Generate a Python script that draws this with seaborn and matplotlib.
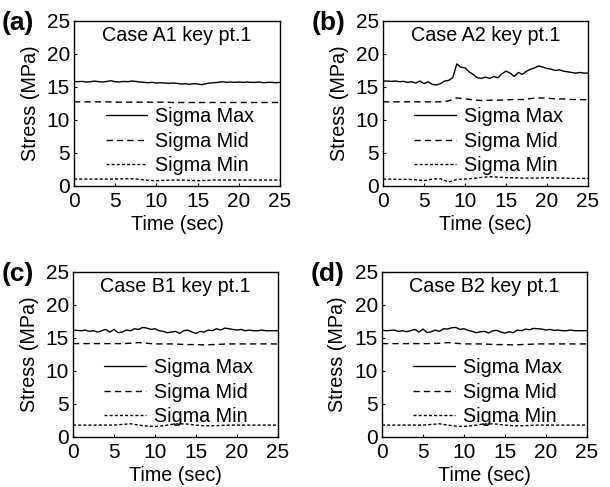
import numpy as np
import pandas as pd
import matplotlib
matplotlib.use("Agg")
import matplotlib.pyplot as plt
import seaborn as sns

# ---------------- data ----------------
t_fine = [i * 0.5 for i in range(51)]      # time for Sigma Max (sec)
t_coarse = list(range(26))                  # time for Sigma Mid / Min (sec)

panel_letters = ["(a)", "(b)", "(c)", "(d)"]
panel_titles = ["Case A1 key pt.1", "Case A2 key pt.1", "Case B1 key pt.1", "Case B2 key pt.1"]
series_names = ["Sigma Max", "Sigma Mid", "Sigma Min"]

a_max = [15.85, 15.8, 15.85, 15.75, 15.8, 15.9, 15.8, 15.75, 15.85, 15.95, 15.8,
         15.75, 15.85, 15.8, 15.9, 15.85, 15.75, 15.7, 15.65, 15.7, 15.6,
         15.65, 15.6, 15.55, 15.6, 15.55, 15.45, 15.5, 15.4, 15.5, 15.45,
         15.35, 15.5, 15.6, 15.65, 15.7, 15.8, 15.7, 15.75, 15.7, 15.75,
         15.7, 15.75, 15.7, 15.7, 15.75, 15.65, 15.7, 15.7, 15.65, 15.7]
a_mid = [12.75, 12.75, 12.75, 12.75, 12.75, 12.7, 12.7, 12.7, 12.7, 12.7, 12.7, 12.7, 12.65,
         12.65, 12.65, 12.65, 12.65, 12.65, 12.65, 12.65, 12.65, 12.65, 12.65, 12.65, 12.65, 12.65]
a_min = [1.05, 1.05, 1.05, 1.05, 1.05, 1.05, 1.1, 1.1, 1.0, 0.85, 0.8, 0.85, 0.9,
         0.9, 0.85, 0.8, 0.85, 0.9, 0.9, 0.9, 0.9, 0.9, 0.9, 0.9, 0.9, 0.9]

b_max = [15.9, 15.9, 15.85, 15.9, 15.8, 15.85, 15.7, 15.8, 15.6, 15.9, 15.5,
         15.8, 15.4, 15.3, 15.5, 15.9, 16.0, 16.4, 18.5, 18.0, 17.9,
         17.3, 16.9, 16.4, 16.3, 16.5, 16.3, 16.6, 16.4, 17.0, 17.4,
         17.1, 16.6, 17.2, 16.9, 17.4, 17.7, 17.9, 18.2, 18.0, 17.8,
         17.7, 17.5, 17.6, 17.4, 17.3, 17.2, 17.1, 17.2, 17.1, 17.1]
b_mid = [12.75, 12.75, 12.75, 12.75, 12.75, 12.75, 12.75, 12.75, 12.9, 13.35, 13.2, 13.05, 12.95,
         13.0, 13.0, 13.05, 13.1, 13.1, 13.25, 13.35, 13.3, 13.2, 13.2, 13.1, 13.1, 13.05]
b_min = [1.05, 1.05, 1.0, 1.0, 0.95, 0.8, 1.05, 1.1, 0.6, 1.0, 1.05, 1.15, 1.3,
         1.4, 1.35, 1.25, 1.25, 1.2, 1.2, 1.2, 1.25, 1.2, 1.2, 1.15, 1.15, 1.15]

c_max = [16.2, 16.15, 16.1, 16.2, 16.0, 16.1, 15.9, 16.1, 16.3, 15.9, 16.3,
         15.8, 15.9, 16.2, 16.1, 16.4, 16.3, 16.6, 16.5, 16.3, 16.4,
         16.1, 16.0, 15.8, 15.9, 16.0, 15.7, 16.1, 16.2, 15.9, 15.7,
         16.0, 15.9, 16.2, 16.1, 16.4, 16.2, 16.5, 16.4, 16.3, 16.2,
         16.3, 16.1, 16.2, 16.1, 16.1, 16.2, 16.1, 16.1, 16.1, 16.1]
c_mid = [14.15, 14.15, 14.15, 14.15, 14.15, 14.15, 14.15, 14.2, 14.3, 14.2, 14.1, 14.1, 14.1,
         14.05, 14.0, 14.0, 13.95, 14.0, 14.05, 14.1, 14.1, 14.1, 14.1, 14.1, 14.1, 14.1]
c_min = [1.8, 1.8, 1.8, 1.8, 1.8, 1.8, 1.9, 2.0, 1.8, 1.65, 1.6, 1.7, 1.9,
         2.0, 1.95, 1.8, 1.7, 1.7, 1.75, 1.8, 1.8, 1.8, 1.8, 1.8, 1.8, 1.8]

d_max = [16.2, 16.1, 16.15, 16.2, 16.0, 16.1, 15.95, 16.1, 16.3, 15.9, 16.35,
         15.8, 15.95, 16.2, 16.0, 16.4, 16.35, 16.55, 16.6, 16.3, 16.4,
         16.15, 16.0, 15.8, 15.95, 16.0, 15.75, 16.1, 16.15, 15.9, 15.75,
         15.95, 15.8, 16.2, 16.1, 16.35, 16.25, 16.45, 16.4, 16.35, 16.2,
         16.3, 16.15, 16.2, 16.1, 16.1, 16.2, 16.1, 16.1, 16.1, 16.1]
d_mid = [14.15, 14.15, 14.15, 14.15, 14.15, 14.15, 14.15, 14.2, 14.3, 14.2, 14.1, 14.1, 14.1,
         14.05, 14.0, 14.0, 13.95, 14.0, 14.05, 14.1, 14.1, 14.1, 14.1, 14.1, 14.1, 14.1]
d_min = [1.8, 1.8, 1.8, 1.8, 1.8, 1.8, 1.9, 2.0, 1.8, 1.65, 1.6, 1.7, 1.9,
         2.0, 1.95, 1.8, 1.7, 1.7, 1.75, 1.8, 1.8, 1.8, 1.8, 1.8, 1.8, 1.8]

x_ticks = [0, 5, 10, 15, 20, 25]
y_ticks = [0, 5, 10, 15, 20, 25]

# ---------------- style ----------------
sns.set_style("ticks")
plt.rcParams["font.family"] = ["Liberation Sans", "DejaVu Sans"]
plt.rcParams.update({
    "xtick.direction": "in", "ytick.direction": "in",
    "xtick.major.size": 2.5, "ytick.major.size": 2.5,
    "xtick.major.width": 0.8, "ytick.major.width": 0.8,
    "axes.linewidth": 1.0, "axes.edgecolor": "black",
    "xtick.color": "black", "ytick.color": "black",
    "text.color": "black", "axes.labelcolor": "black",
})

fig = plt.figure(figsize=(6.10, 4.87), dpi=100)
positions = [
    [0.1213, 0.6181, 0.3377, 0.3388],
    [0.6279, 0.6181, 0.3361, 0.3388],
    [0.1197, 0.1027, 0.3361, 0.3388],
    [0.6262, 0.1027, 0.3361, 0.3388],
]
data = [(a_max, a_mid, a_min), (b_max, b_mid, b_min), (c_max, c_mid, c_min), (d_max, d_mid, d_min)]
dash_styles = [None, (4.5, 3.0), (2.2, 1.5)]

FS_TICK = 15
FS = 14.2
for i, pos in enumerate(positions):
    ax = fig.add_axes(pos)
    mx, md, mn = data[i]
    frames = [
        pd.DataFrame({"t": t_fine, "v": mx}),
        pd.DataFrame({"t": t_coarse, "v": md}),
        pd.DataFrame({"t": t_coarse, "v": mn}),
    ]
    for k, df in enumerate(frames):
        sns.lineplot(data=df, x="t", y="v", ax=ax, color="black", linewidth=1.0,
                     label=series_names[k])
        line = ax.get_lines()[-1]
        if dash_styles[k] is not None:
            line.set_dashes(dash_styles[k])
    ax.set_xlim(0, 25)
    ax.set_ylim(0, 25)
    ax.set_xticks(x_ticks)
    ax.set_yticks(y_ticks)
    ax.tick_params(axis="x", labelsize=FS_TICK, pad=4, top=False)
    ax.tick_params(axis="y", labelsize=FS_TICK, pad=3, right=False)
    ax.set_xlabel("Time (sec)", fontsize=FS, labelpad=3)
    ax.set_ylabel("Stress (MPa)", fontsize=FS, labelpad=5)
    for s in ax.spines.values():
        s.set_visible(True)
        s.set_linewidth(1.0)
    ax.text(0.5, 0.91, panel_titles[i], transform=ax.transAxes, ha="center",
            va="center", fontsize=FS)
    ax.text(-0.35, 0.99, panel_letters[i], transform=ax.transAxes, ha="left",
            va="center", fontsize=19, fontweight="bold")
    leg = ax.legend(loc="center", bbox_to_anchor=(0.515, 0.272), frameon=False,
                    fontsize=FS, handlelength=2.1, handletextpad=0.4,
                    labelspacing=0.28, borderpad=0.0)

fig.savefig("out.png", dpi=100)
